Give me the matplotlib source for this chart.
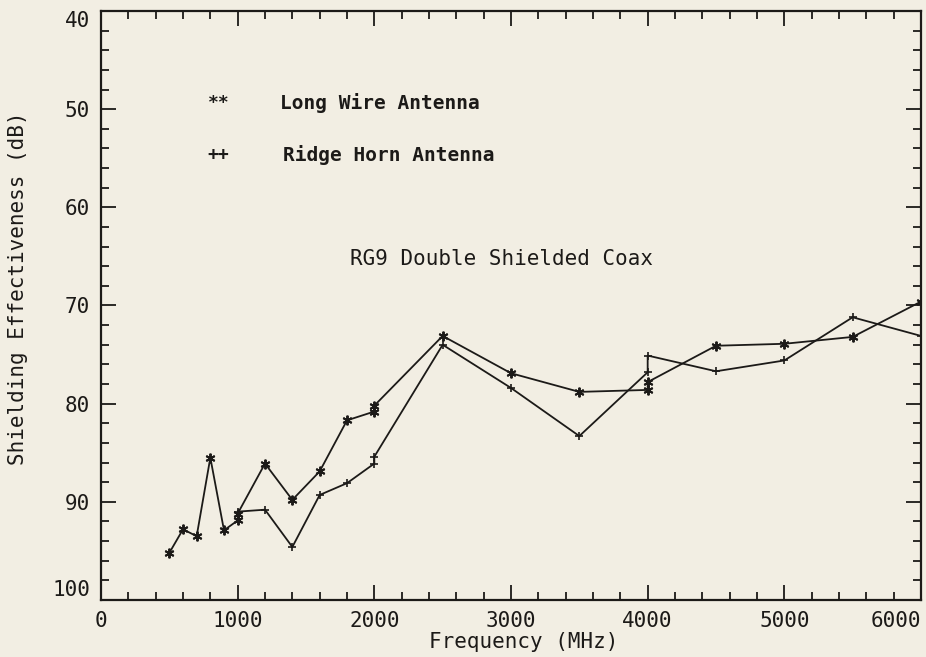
import matplotlib
matplotlib.use('Agg')
from matplotlib import pyplot as plt
from matplotlib.ticker import MultipleLocator, FixedLocator

# Long Wire Antenna (** markers) - repeated frequencies are band overlaps
wire_freq = [500, 600, 700, 800, 900, 1000, 1000, 1200, 1400, 1600, 1800, 2000, 2000,
             2500, 3000, 3500, 4000, 4000, 4500, 5000, 5500, 6000]
wire_se = [95.2, 92.8, 93.5, 85.5, 92.9, 91.9, 91.2, 86.1, 89.8, 86.9, 81.7, 80.8, 80.2,
           73.1, 76.9, 78.8, 78.6, 77.8, 74.1, 73.9, 73.2, 69.6]

# Ridge Horn Antenna (++ markers)
horn_freq = [1000, 1200, 1400, 1600, 1800, 2000, 2000, 2500, 3000, 3500, 4000, 4000,
             4500, 5000, 5500, 6000]
horn_se = [91.0, 90.8, 94.6, 89.3, 88.1, 86.1, 85.4, 74.0, 78.4, 83.3, 76.8, 75.1,
           76.7, 75.6, 71.2, 73.1]

x_ticks = [0, 1000, 2000, 3000, 4000, 5000, 6000]
y_ticks = [40, 50, 60, 70, 80, 90, 100]

bg = '#f2eee3'
ink = '#1c1a18'
mono = 'DejaVu Sans Mono'

fig = plt.figure(figsize=(9.26, 6.57), dpi=100, facecolor=bg)
ax = fig.add_axes([101 / 926, 1 - 600 / 657, 820 / 926, 589 / 657], facecolor=bg)

ax.plot(wire_freq, wire_se, color=ink, lw=1.3, marker=(6, 2, 0), ms=7, mew=1.4,
        mec=ink, clip_on=True)
ax.plot(horn_freq, horn_se, color=ink, lw=1.3, marker='+', ms=6, mew=1.2,
        mec=ink, clip_on=True)

ax.set_xlim(0, 6000)
ax.set_ylim(100, 40)

ax.xaxis.set_major_locator(FixedLocator(x_ticks))
ax.xaxis.set_minor_locator(MultipleLocator(200))
ax.yaxis.set_major_locator(FixedLocator(y_ticks))
ax.yaxis.set_minor_locator(MultipleLocator(2))
ax.set_xticklabels([str(v) for v in x_ticks])
ax.set_yticklabels([str(v) for v in y_ticks])

ax.tick_params(which='both', direction='in', top=True, right=True, color=ink,
               width=1.3, labelcolor=ink)
ax.tick_params(which='major', length=11, labelsize=15, pad=8)
ax.tick_params(which='minor', length=6)
for lab in ax.get_xticklabels() + ax.get_yticklabels():
    lab.set_fontfamily(mono)

# end labels squeezed inside like the plotter did
xt = ax.xaxis.get_major_ticks()
xt[-1].label1.set_horizontalalignment('right')
yt = ax.yaxis.get_major_ticks()
yt[0].label1.set_verticalalignment('top')
yt[-1].label1.set_verticalalignment('bottom')

for s in ax.spines.values():
    s.set_linewidth(1.6)
    s.set_color(ink)

ax.set_xlabel('Frequency (MHz)', fontsize=15, family=mono, color=ink, va='center')
ax.xaxis.set_label_coords(0.515, -0.071)
ax.set_ylabel('Shielding Effectiveness (dB)', fontsize=15, family=mono, color=ink,
              va='center')
ax.yaxis.set_label_coords(-0.101, 0.53)

# legend written as plain text, like the original
ax.text(860, 49.4, '**', fontsize=13, family=mono, fontweight='bold', color=ink,
        ha='center', va='center')
ax.text(1310, 49.4, 'Long Wire Antenna', fontsize=14, family=mono, fontweight='bold',
        color=ink, ha='left', va='center')
ax.text(860, 54.7, '++', fontsize=13, family=mono, fontweight='bold', color=ink,
        ha='center', va='center')
ax.text(1330, 54.7, 'Ridge Horn Antenna', fontsize=14, family=mono, fontweight='bold',
        color=ink, ha='left', va='center')
ax.text(2930, 65.3, 'RG9 Double Shielded Coax', fontsize=15, family=mono, color=ink,
        ha='center', va='center')

plt.savefig('out.png', dpi=100, facecolor=bg)
